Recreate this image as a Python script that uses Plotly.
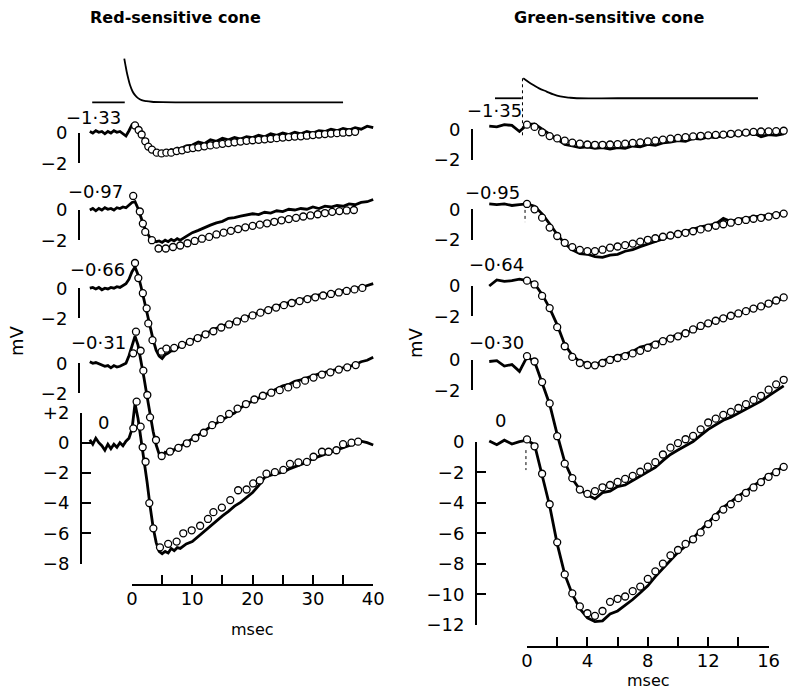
import plotly.graph_objects as go

# ---------------- DATA ----------------
# Left panel: red-sensitive cone (time in ms, response in mV)
red_labels = ["−1·33", "−0·97", "−0·66", "−0·31", "0"]
red_t = [-7, -6.5, -6, -5.5, -5, -4.5, -4, -3.5, -3, -2.5, -2, -1.5, -1, -0.5, 0, 0.5, 1, 1.5, 2, 2.5,
         3, 3.5, 4, 4.5, 5, 5.5, 6, 6.5, 7, 7.5, 8, 9, 10, 11, 12, 13, 14, 15, 16, 17, 18, 19, 20,
         21, 22, 23, 24, 25, 26, 27, 28, 29, 30, 31, 32, 33, 34, 35, 36, 37, 38, 39, 40]
red_rec_1 = [0.1, 0.0, 0.15, 0.05, 0.1, -0.05, 0.1, 0.0, 0.15, 0.05, 0.1, -0.05, -0.2, 0.15, 0.55, 0.6, 0.3, -0.1,
             -0.4, -0.7, -0.95, -1.15, -1.25, -1.35, -1.3, -1.2, -1.25, -1.1, -1.15, -1.0, -1.05, -0.85, -0.8,
             -0.6, -0.7, -0.45, -0.55, -0.35, -0.45, -0.3, -0.4, -0.25, -0.3, -0.15, -0.25, -0.05, -0.15, 0.0,
             -0.1, 0.05, -0.05, 0.1, 0.0, 0.15, 0.1, 0.25, 0.15, 0.3, 0.2, 0.35, 0.25, 0.45, 0.35]
red_rec_2 = [0.0, 0.1, -0.05, 0.1, 0.0, 0.15, 0.05, 0.1, 0.0, 0.15, 0.1, 0.2, 0.15, 0.3, 0.5, 0.55, 0.1, -0.5,
             -1.1, -1.5, -1.85, -2.0, -2.1, -2.05, -2.15, -2.0, -2.1, -1.95, -2.05, -1.9, -2.0, -1.75, -1.5,
             -1.35, -1.15, -1.0, -0.85, -0.75, -0.55, -0.5, -0.4, -0.35, -0.25, -0.3, -0.15, -0.2, -0.05, -0.1,
             0.05, 0.0, 0.1, 0.05, 0.2, 0.1, 0.25, 0.2, 0.3, 0.25, 0.4, 0.35, 0.5, 0.55, 0.7]
red_rec_3 = [0.0, 0.05, -0.05, 0.05, -0.1, 0.0, -0.05, 0.05, 0.0, 0.1, 0.05, 0.15, 0.3, 0.6, 1.1, 1.4, 0.9, 0.1,
             -0.8, -1.7, -2.6, -3.4, -4.1, -4.5, -4.65, -4.4, -4.3, -4.15, -4.15, -3.95, -3.85, -3.65, -3.4,
             -3.25, -3.0, -2.85, -2.65, -2.5, -2.35, -2.2, -2.05, -1.9, -1.75, -1.6, -1.45, -1.3, -1.2, -1.05,
             -0.95, -0.85, -0.75, -0.65, -0.6, -0.45, -0.45, -0.3, -0.3, -0.15, -0.15, 0.0, 0.05, 0.2, 0.3]
red_rec_4 = [0.1, 0.0, 0.05, -0.05, -0.1, -0.2, -0.15, -0.3, -0.15, -0.25, -0.2, -0.1, 0.0, 0.5, 1.2, 1.8, 1.2, 0.2,
             -1.0, -2.2, -3.4, -4.5, -5.4, -6.0, -6.2, -5.9, -6.0, -5.7, -5.75, -5.5, -5.5, -5.25, -5.05,
             -4.8, -4.5, -4.2, -3.95, -3.7, -3.5, -3.3, -2.95, -2.7, -2.5, -2.3, -2.05, -1.85, -1.7, -1.5,
             -1.4, -1.2, -1.1, -0.95, -0.85, -0.7, -0.6, -0.5, -0.35, -0.3, -0.15, -0.1, 0.1, 0.2, 0.4]
red_rec_5 = [0.2, -0.1, 0.3, 0.0, -0.2, -0.5, -0.1, -0.4, -0.1, -0.3, 0.0, -0.2, 0.1, 0.3, 0.9, 2.6, 1.6, 0.3,
             -1.0, -2.6, -4.2, -5.6, -6.6, -7.2, -7.35, -7.2, -7.3, -7.0, -7.15, -6.95, -7.0, -6.7, -6.55,
             -6.2, -5.9, -5.5, -5.2, -4.85, -4.55, -4.2, -3.95, -3.6, -3.3, -2.85, -2.3, -2.15, -2.05, -1.95,
             -1.75, -1.6, -1.5, -1.3, -1.05, -0.9, -0.75, -0.65, -0.45, -0.3, -0.2, -0.05, 0.1, 0.0, -0.15]

red_fit_t_1 = [0.5, 1.1, 1.6, 2.2, 2.7, 3.3, 4.1, 4.9, 5.7, 6.5, 7.4, 8.3, 9.2, 10.1, 11, 12, 13, 14, 15, 16, 17,
               18, 19, 20, 21, 22, 23, 24, 25, 26, 27, 28, 29, 30, 31, 32, 33, 34, 35, 36, 37]
red_fit_1 = [0.5, 0.2, -0.1, -0.55, -0.9, -1.1, -1.3, -1.35, -1.3, -1.3, -1.2, -1.15, -1.05, -1.0, -0.95, -0.88,
             -0.82, -0.77, -0.72, -0.67, -0.62, -0.57, -0.52, -0.48, -0.45, -0.42, -0.38, -0.34, -0.3, -0.27,
             -0.24, -0.22, -0.18, -0.14, -0.1, -0.07, -0.04, -0.01, 0.02, 0.05, 0.08]
red_fit_t_2 = [0.2, 1.3, 1.8, 2.2, 3.3, 4.4, 5.6, 6.8, 8.0, 9.2, 10.4, 11.6, 12.8, 14.0, 15.2, 16.4, 17.6, 18.8,
               20.0, 21.2, 22.4, 23.6, 24.8, 26.0, 27.2, 28.4, 29.6, 30.8, 32.0, 33.2, 34.4, 35.6, 36.8]
red_fit_2 = [0.93, -0.1, -0.9, -1.45, -2.0, -2.55, -2.55, -2.45, -2.35, -2.2, -2.05, -1.9, -1.78, -1.62, -1.5,
             -1.38, -1.26, -1.15, -1.05, -0.97, -0.88, -0.78, -0.68, -0.6, -0.52, -0.43, -0.36, -0.28, -0.2,
             -0.12, -0.07, -0.03, 0.0]
red_fit_t_3 = [0.5, 1.05, 1.8, 2.43, 2.7, 3.4, 4.9, 5.7, 7.0, 8.3, 9.6, 10.9, 12.2, 13.5, 14.8, 16.1, 17.4, 18.7,
               20.0, 21.3, 22.6, 23.9, 25.2, 26.5, 27.8, 29.1, 30.4, 31.7, 33.0, 34.3, 35.6, 36.9, 38.2]
red_fit_3 = [1.67, 0.67, -0.33, -1.33, -2.33, -3.44, -4.2, -4.0, -3.95, -3.75, -3.55, -3.3, -3.05, -2.85, -2.6,
             -2.4, -2.2, -2.0, -1.8, -1.62, -1.45, -1.28, -1.12, -0.98, -0.85, -0.72, -0.6, -0.48, -0.38, -0.28,
             -0.18, -0.08, 0.02]
red_fit_t_4 = [0.2, 0.66, 1.43, 1.88, 2.54, 2.99, 3.98, 4.92, 6.3, 7.7, 9.1, 10.5, 11.9, 13.3, 14.7, 16.1, 17.5,
               18.9, 20.3, 21.7, 23.1, 24.5, 25.9, 27.3, 28.7, 30.1, 31.5, 32.9, 34.3, 35.7, 37.1]
red_fit_4 = [0.66, 2.09, 0.83, -0.49, -2.1, -3.58, -5.08, -6.14, -5.85, -5.6, -5.3, -4.95, -4.6, -4.1, -3.7,
             -3.35, -3.0, -2.7, -2.4, -2.15, -1.95, -1.78, -1.6, -1.4, -1.15, -0.95, -0.75, -0.6, -0.42, -0.27,
             -0.12]
red_fit_t_5 = [0.22, 0.77, 1.43, 1.77, 2.25, 2.87, 3.54, 4.64, 6.0, 7.4, 8.5, 9.9, 11.3, 12.6, 13.5, 14.9, 16.3,
               17.6, 19.0, 20.1, 21.2, 22.3, 23.7, 25.1, 26.2, 27.6, 29.0, 30.1, 31.5, 32.6, 33.9, 35.0, 36.4, 37.5]
red_fit_5 = [0.95, 2.72, 1.06, -0.3, -1.26, -4.0, -5.67, -6.93, -6.7, -6.55, -6.0, -5.8, -5.5, -5.05, -4.6, -4.3,
             -3.8, -3.15, -3.1, -2.7, -2.5, -2.05, -1.95, -1.8, -1.4, -1.3, -1.27, -0.93, -0.6, -0.6, -0.5, -0.1,
             0.0, 0.07]

red_stim_pre_t = [-6.6, -1.2]
red_stim_pre = [0.0, 0.0]
red_stim_t = [-1.28, -1.1, -0.88, -0.6, -0.33, 0.1, 0.5, 1.0, 1.6, 2.4, 3.25, 5.0, 8.0, 20.0, 35.0]
red_stim = [2.9, 2.5, 2.03, 1.55, 1.15, 0.72, 0.48, 0.28, 0.15, 0.08, 0.04, 0.01, 0.0, 0.0, 0.0]

# Right panel: green-sensitive cone
green_labels = ["−1·35", "−0·95", "−0·64", "−0·30", "0"]
green_t = [-2.5, -2, -1.5, -1, -0.5, 0, 0.5, 1, 1.5, 2, 2.5, 3, 3.5, 4, 4.5, 5, 5.5, 6, 6.5, 7, 7.5, 8, 8.5,
           9, 9.5, 10, 10.5, 11, 11.5, 12, 12.5, 13, 13.5, 14, 14.5, 15, 15.5, 16, 16.5, 17]
green_rec_1 = [0.2, 0.15, 0.3, 0.25, -0.15, 0.3, 0.35, 0.0, -0.35, -0.7, -1.0, -1.1, -1.2, -1.15, -1.25, -1.2,
               -1.3, -1.2, -1.25, -1.1, -1.15, -1.0, -1.05, -0.9, -0.85, -0.75, -0.8, -0.6, -0.65, -0.5, -0.55,
               -0.4, -0.45, -0.3, -0.35, -0.25, -0.5, -0.35, -0.4, -0.3]
green_rec_2 = [0.35, 0.3, 0.35, 0.25, 0.3, 0.35, 0.2, -0.3, -0.95, -1.65, -2.25, -2.65, -2.9, -2.95, -3.1, -3.15,
               -3.0, -2.95, -2.75, -2.65, -2.45, -2.3, -2.1, -1.95, -1.75, -1.6, -1.4, -1.3, -1.15, -1.05, -0.95,
               -0.6, -0.8, -0.65, -0.6, -0.5, -0.45, -0.4, -0.3, -0.25]
green_rec_3 = [0.0, 0.4, 0.3, 0.35, 0.45, 0.35, 0.15, -0.55, -1.45, -2.55, -3.85, -4.55, -4.95, -5.1, -5.2, -4.9,
               -4.75, -4.55, -4.4, -4.3, -4.0, -3.9, -3.7, -3.6, -3.35, -3.2, -3.0, -2.9, -2.65, -2.5, -2.25,
               -2.1, -1.95, -1.8, -1.65, -1.55, -1.35, -1.2, -1.0, -0.8]
green_rec_4 = [-0.1, -0.05, -0.4, -0.3, -0.75, 0.2, -0.1, -1.5, -2.9, -4.9, -6.7, -7.8, -8.5, -8.85, -9.1, -8.7,
               -8.6, -8.3, -8.2, -7.9, -7.6, -7.3, -7.05, -6.6, -6.2, -5.9, -5.6, -5.35, -4.95, -4.55, -4.25,
               -3.95, -3.75, -3.5, -3.25, -2.95, -2.7, -2.35, -2.0, -1.7]
green_rec_5 = [0.05, -0.2, 0.1, -0.15, 0.0, 0.1, -0.2, -2.2, -4.2, -6.7, -8.7, -10.0, -10.95, -11.55, -11.8,
               -11.75, -11.3, -11.1, -10.75, -10.35, -9.9, -9.45, -8.85, -8.3, -7.75, -7.25, -6.85, -6.3, -5.8,
               -5.3, -4.8, -4.3, -3.95, -3.55, -3.25, -2.9, -2.55, -2.2, -1.95, -1.6]

green_fit_t = [0, 0.5, 1, 1.5, 2, 2.5, 3, 3.5, 4, 4.5, 5, 5.5, 6, 6.5, 7, 7.5, 8, 8.5, 9, 9.5, 10, 10.5, 11,
               11.5, 12, 12.5, 13, 13.5, 14, 14.5, 15, 15.5, 16, 16.5, 17]
green_fit_1 = [0.3, 0.15, -0.2, -0.45, -0.6, -0.75, -0.88, -0.95, -1.0, -1.02, -1.02, -1.0, -0.98, -0.95, -0.9,
               -0.86, -0.8, -0.75, -0.68, -0.62, -0.57, -0.52, -0.47, -0.43, -0.4, -0.37, -0.35, -0.3, -0.27,
               -0.22, -0.18, -0.15, -0.14, -0.12, -0.1]
green_fit_2 = [0.35, 0.0, -0.55, -1.2, -1.75, -2.2, -2.48, -2.66, -2.74, -2.74, -2.65, -2.52, -2.44, -2.35, -2.25,
               -2.12, -2.0, -1.9, -1.8, -1.72, -1.62, -1.54, -1.44, -1.32, -1.2, -1.08, -0.98, -0.88, -0.78,
               -0.7, -0.62, -0.56, -0.48, -0.38, -0.28]
green_fit_3 = [0.35, 0.1, -0.65, -1.45, -2.7, -3.95, -4.65, -5.05, -5.18, -5.2, -5.05, -4.85, -4.72, -4.6, -4.42,
               -4.25, -4.05, -3.85, -3.62, -3.45, -3.3, -3.1, -2.85, -2.62, -2.45, -2.28, -2.12, -1.95, -1.8,
               -1.65, -1.48, -1.34, -1.15, -0.95, -0.75]
green_fit_4 = [0.25, -0.1, -1.45, -2.85, -5.0, -6.8, -7.75, -8.5, -8.78, -8.6, -8.35, -8.2, -8.0, -7.8, -7.6,
               -7.33, -7.0, -6.7, -6.2, -5.75, -5.45, -5.2, -4.98, -4.55, -4.1, -3.85, -3.6, -3.4, -3.15, -2.9,
               -2.62, -2.35, -1.95, -1.6, -1.3]
green_fit_5 = [0.15, -0.3, -2.1, -4.1, -6.6, -8.7, -9.95, -10.8, -11.25, -11.42, -11.1, -10.5, -10.3, -10.15,
               -9.8, -9.5, -9.0, -8.5, -8.0, -7.45, -7.1, -6.7, -6.4, -5.95, -5.4, -4.95, -4.45, -4.1, -3.7,
               -3.35, -3.0, -2.65, -2.3, -2.0, -1.65]

green_stim_pre_t = [-2.12, -0.35]
green_stim_pre = [0.0, 0.0]
green_stim_t = [-0.25, 0.1, 0.42, 0.8, 1.3, 1.75, 2.2, 2.8, 3.3, 6.0, 10.0, 15.3]
green_stim = [1.31, 1.07, 0.87, 0.65, 0.44, 0.25, 0.12, 0.04, 0.0, 0.0, 0.0, 0.0]

red_x_ticks = [0, 5, 10, 15, 20, 25, 30, 35, 40]
red_x_ticktext = ["0", "", "10", "", "20", "", "30", "", "40"]
green_x_ticks = [0, 2, 4, 6, 8, 10, 12, 14, 16]
green_x_ticktext = ["0", "", "4", "", "8", "", "12", "", "16"]
red_y_ticks = [-8, -6, -4, -2, 0, 2]
red_y_ticktext = ["−8", "−6", "−4", "−2", "0", "+2"]
green_y_ticks = [-12, -10, -8, -6, -4, -2, 0]
green_y_ticktext = ["−12", "−10", "−8", "−6", "−4", "−2", "0"]

# ---------------- LAYOUT CONSTANTS (pixels) ----------------
W, H = 788, 690
FONT = "DejaVu Sans"
FS = 18
def fx(px): return px / W
def fy(py): return 1 - py / H

# vertical offsets of the traces (mV) in each panel
red_off = [20.51, 15.41, 10.23, 5.26, 0.0]
green_off = [20.49, 15.24, 10.21, 5.36, 0.0]
red_stim_off = 22.54
green_stim_off = 22.52

panels = [
    dict(name="red", t0=132.0, pxms=6.03, base=442.7, pxmv=15.1, xdom=(84, 392), ydom=(640, 30),
         xa="x", ya="y", tickxa="x3", xtick_end=40, xaxis_y=585, yaxis_x=81, brk_x=79,
         t=red_t, recs=[red_rec_1, red_rec_2, red_rec_3, red_rec_4, red_rec_5],
         fit_t=[red_fit_t_1, red_fit_t_2, red_fit_t_3, red_fit_t_4, red_fit_t_5],
         fits=[red_fit_1, red_fit_2, red_fit_3, red_fit_4, red_fit_5], off=red_off,
         stim_pre=(red_stim_pre_t, red_stim_pre), stim=(red_stim_t, red_stim), stim_off=red_stim_off,
         labels=red_labels, label_px=[(93, 117), (95, 192), (97, 269), (98, 343), (103, 422)],
         xticks=red_x_ticks, xticktext=red_x_ticktext, yticks=red_y_ticks, yticktext=red_y_ticktext,
         yrange=(-8, 2), title="Red-sensitive cone", title_px=(175, 18), mv_px=(16, 340), msec_px=(252, 629)),
    dict(name="green", t0=527.0, pxms=15.1, base=441.7, pxmv=15.25, xdom=(478, 788), ydom=(660, 30),
         xa="x2", ya="y2", tickxa="x4", xtick_end=16, xaxis_y=647, yaxis_x=476, brk_x=472,
         t=green_t, recs=[green_rec_1, green_rec_2, green_rec_3, green_rec_4, green_rec_5],
         fit_t=[green_fit_t] * 5,
         fits=[green_fit_1, green_fit_2, green_fit_3, green_fit_4, green_fit_5], off=green_off,
         stim_pre=(green_stim_pre_t, green_stim_pre), stim=(green_stim_t, green_stim), stim_off=green_stim_off,
         labels=green_labels, label_px=[(494, 110), (492, 193), (496, 265), (496, 342), (500, 421)],
         xticks=green_x_ticks, xticktext=green_x_ticktext, yticks=green_y_ticks, yticktext=green_y_ticktext,
         yrange=(-12, 0), title="Green-sensitive cone", title_px=(609, 18), mv_px=(416, 343), msec_px=(648, 680)),
]

fig = go.Figure()
layout = dict(template="none", width=W, height=H, autosize=False,
              margin=dict(l=0, r=0, t=0, b=0, pad=0, autoexpand=False),
              paper_bgcolor="white", plot_bgcolor="rgba(0,0,0,0)", showlegend=False,
              font=dict(family=FONT, color="black", size=FS))
annotations = []
shapes = []

def axname(a):
    return "xaxis" + a[1:] if a.startswith("x") else "yaxis" + a[1:]

def text(s, px, py, size=FS, angle=0):
    return dict(text=s, x=fx(px), y=fy(py), xref="paper", yref="paper", xanchor="center",
                yanchor="middle", showarrow=False, textangle=angle,
                font=dict(size=size, family=FONT, color="black"))

yidx = 3
for p in panels:
    xa, ya = p["xa"], p["ya"]
    # main data axes (hidden)
    xr = [(p["xdom"][0] - p["t0"]) / p["pxms"], (p["xdom"][1] - p["t0"]) / p["pxms"]]
    yr = [(p["base"] - p["ydom"][0]) / p["pxmv"], (p["base"] - p["ydom"][1]) / p["pxmv"]]
    layout[axname(xa)] = dict(domain=[fx(p["xdom"][0]), fx(p["xdom"][1])], range=xr, visible=False,
                              anchor=ya, automargin=False)
    layout[axname(ya)] = dict(domain=[fy(p["ydom"][0]), fy(p["ydom"][1])], range=yr, visible=False,
                              anchor=xa, automargin=False)

    # stimulus
    fig.add_trace(go.Scatter(x=p["stim_pre"][0], y=[v + p["stim_off"] for v in p["stim_pre"][1]],
                             mode="lines", line=dict(color="black", width=1.8), xaxis=xa, yaxis=ya,
                             hoverinfo="skip"))
    fig.add_trace(go.Scatter(x=p["stim"][0], y=[v + p["stim_off"] for v in p["stim"][1]],
                             mode="lines", line=dict(color="black", width=1.8, shape="spline"),
                             xaxis=xa, yaxis=ya, hoverinfo="skip"))

    # recorded traces and computed points
    for rec, ft, fv, off in zip(p["recs"], p["fit_t"], p["fits"], p["off"]):
        fig.add_trace(go.Scatter(x=p["t"], y=[v + off for v in rec], mode="lines",
                                 line=dict(color="black", width=2.8), xaxis=xa, yaxis=ya,
                                 hoverinfo="skip"))
        fig.add_trace(go.Scatter(x=ft, y=[v + off for v in fv], mode="markers",
                                 marker=dict(symbol="circle", size=7, color="white",
                                             line=dict(color="black", width=1.3)),
                                 xaxis=xa, yaxis=ya, cliponaxis=False, hoverinfo="skip"))

    # time axis (real axis spanning only 0..end)
    tx = p["tickxa"]
    layout[axname(tx)] = dict(domain=[fx(p["t0"]), fx(p["t0"] + p["xtick_end"] * p["pxms"])],
                              range=[0, p["xtick_end"]], anchor="free", position=fy(p["xaxis_y"]),
                              showline=True, linecolor="black", linewidth=2, ticks="inside",
                              ticklen=9, tickwidth=2, tickcolor="black", tickvals=p["xticks"],
                              ticktext=p["xticktext"], showgrid=False, zeroline=False, automargin=False,
                              ticklabelstandoff=-3,
                              tickfont=dict(size=FS, family=FONT, color="black"))
    fig.add_trace(go.Scatter(x=[None], y=[None], xaxis=tx, yaxis=ya, hoverinfo="skip"))
    annotations.append(text("msec", *p["msec_px"], size=16))

    # mV scale brackets for each trace (real axes, same mV scale as the data axis)
    for i, off in enumerate(p["off"]):
        top_px = p["base"] - off * p["pxmv"]
        if i < 4:
            lo, hi = -2, 0
            tv, tt = [-2, 0], ["−2", "0"]
            xpos = p["brk_x"]
        else:
            lo, hi = p["yrange"]
            tv, tt = p["yticks"], p["yticktext"]
            xpos = p["yaxis_x"]
        yname = "y%d" % yidx
        yidx += 1
        layout[axname(yname)] = dict(domain=[fy(top_px - lo * p["pxmv"]), fy(top_px - hi * p["pxmv"])],
                                     range=[lo, hi], anchor="free", position=fx(xpos),
                                     showline=True, linecolor="black", linewidth=2, ticks="inside",
                                     ticklen=9, tickwidth=2, tickcolor="black", tickvals=tv, ticktext=tt,
                                     showgrid=False, zeroline=False, ticklabelstandoff=7, automargin=False,
                                     tickfont=dict(size=FS, family=FONT, color="black"))
        fig.add_trace(go.Scatter(x=[None], y=[None], xaxis=xa, yaxis=yname, hoverinfo="skip"))

    # trace labels
    for lab, (lx, ly) in zip(p["labels"], p["label_px"]):
        annotations.append(text(lab, lx, ly))
    annotations.append(text("<b>%s</b>" % p["title"], *p["title_px"], size=16))
    annotations.append(text("mV", *p["mv_px"], size=FS, angle=-90))

# dotted flash-onset markers in the green panel
gp = panels[1]
for (t, v0, v1) in [(-0.3, gp["stim_off"] + 1.31, 19.98), (-0.13, 15.2, 14.4), (-0.07, -0.55, -1.86)]:
    shapes.append(dict(type="line", xref="x2", yref="y2", x0=t, x1=t, y0=v0, y1=v1,
                       line=dict(color="black", width=1, dash="dot")))

layout["annotations"] = annotations
layout["shapes"] = shapes
fig.update_layout(**layout)
fig.write_html("out.html", config={"displayModeBar": False, "staticPlot": True},
               post_script="document.body.style.margin='0';document.body.style.overflow='hidden';")
